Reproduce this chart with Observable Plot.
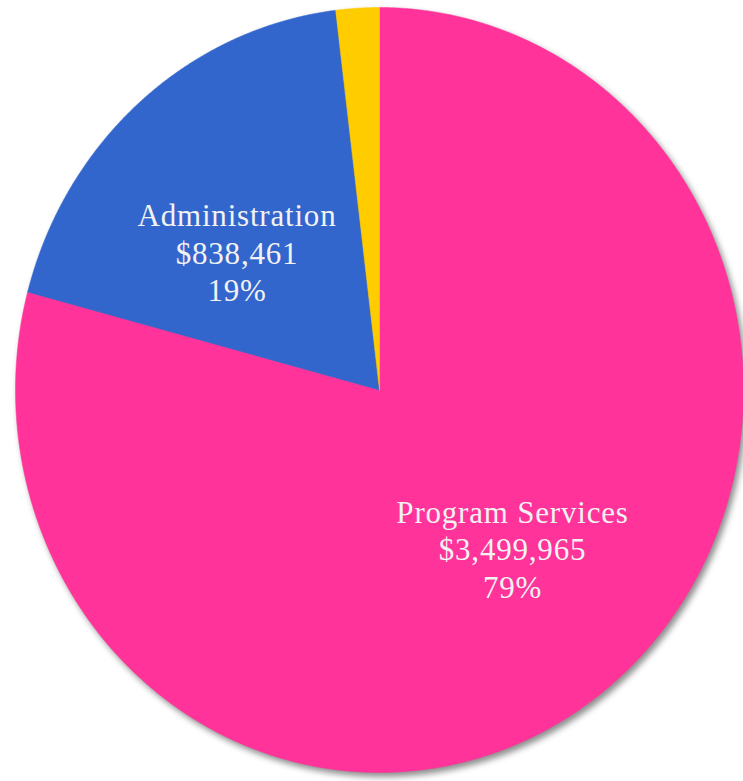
<!DOCTYPE html>
<html>
<head>
<meta charset="utf-8">
<script src="https://cdn.jsdelivr.net/npm/d3@7"></script>
<script src="https://cdn.jsdelivr.net/npm/@observablehq/plot@0.6"></script>
<style>
  html, body { margin: 0; padding: 0; background: #fff; overflow: hidden; }
  #chart svg { display: block; }
  #chart svg g[aria-label="line"] { filter: drop-shadow(3px 4px 3px rgba(0,0,0,0.45)); }
  #chart svg g[aria-label="text"] { font-family: "Liberation Serif", "DejaVu Serif", serif !important; letter-spacing: 0.8px; }
</style>
</head>
<body>
<div id="chart"></div>
<script>
const categories = ["Program Services", "Administration", "Fundraising"];
const amounts = [3499965, 838461, 85000];
const colors = ["#FF3399", "#3366CC", "#FFCC00"];
const labelled = [true, true, false];

const data = categories.map((c, i) => ({cat: c, amount: amounts[i], labelled: labelled[i]}));
const total = d3.sum(amounts);
const arcs = d3.pie().sort(null).value(d => d.amount)(data);

// polygon outline for each slice, in unit-circle data space (y up)
const points = [];
for (const a of arcs) {
  points.push({cat: a.data.cat, x: 0, y: 0});
  const n = Math.max(2, Math.ceil((a.endAngle - a.startAngle) / 0.004));
  for (let k = 0; k <= n; k++) {
    const t = a.startAngle + (a.endAngle - a.startAngle) * k / n;
    points.push({cat: a.data.cat, x: Math.sin(t), y: Math.cos(t)});
  }
  points.push({cat: a.data.cat, x: 0, y: 0});
}

const fmt = d3.format("$,");
const labels = arcs.filter(a => a.data.labelled).map(a => {
  const mid = (a.startAngle + a.endAngle) / 2;
  return {
    cat: a.data.cat,
    x: 0.5 * Math.sin(mid),
    y: 0.5 * Math.cos(mid),
    text: `${a.data.cat}\n${fmt(a.data.amount)}\n${Math.round(a.data.amount / total * 100)}%`
  };
});

const textStyle = {
  x: "x", y: "y", text: "text",
  fill: "#f2f2f2",
  fontFamily: "Liberation Serif",
  fontSize: 31,
  lineHeight: 1.2,
  lineAnchor: "middle",
  textAnchor: "middle"
};

const chart = Plot.plot({
  width: 743,
  height: 781,
  marginLeft: 15,
  marginRight: 0,
  marginTop: 7,
  marginBottom: 9,
  x: {domain: [-1, 1], axis: null},
  y: {domain: [-1, 1], axis: null},
  color: {domain: categories, range: colors},
  style: {background: "#fff"},
  marks: [
    Plot.line(points, {x: "x", y: "y", z: "cat", fill: "cat", stroke: "cat", strokeWidth: 0.5, curve: "linear"}),
    Plot.text(labels.filter(d => d.cat === "Program Services"), {...textStyle, dx: 22, dy: 7}),
    Plot.text(labels.filter(d => d.cat === "Administration"), {...textStyle, dx: -23, dy: 6})
  ]
});
document.getElementById("chart").appendChild(chart);
</script>
</body>
</html>
